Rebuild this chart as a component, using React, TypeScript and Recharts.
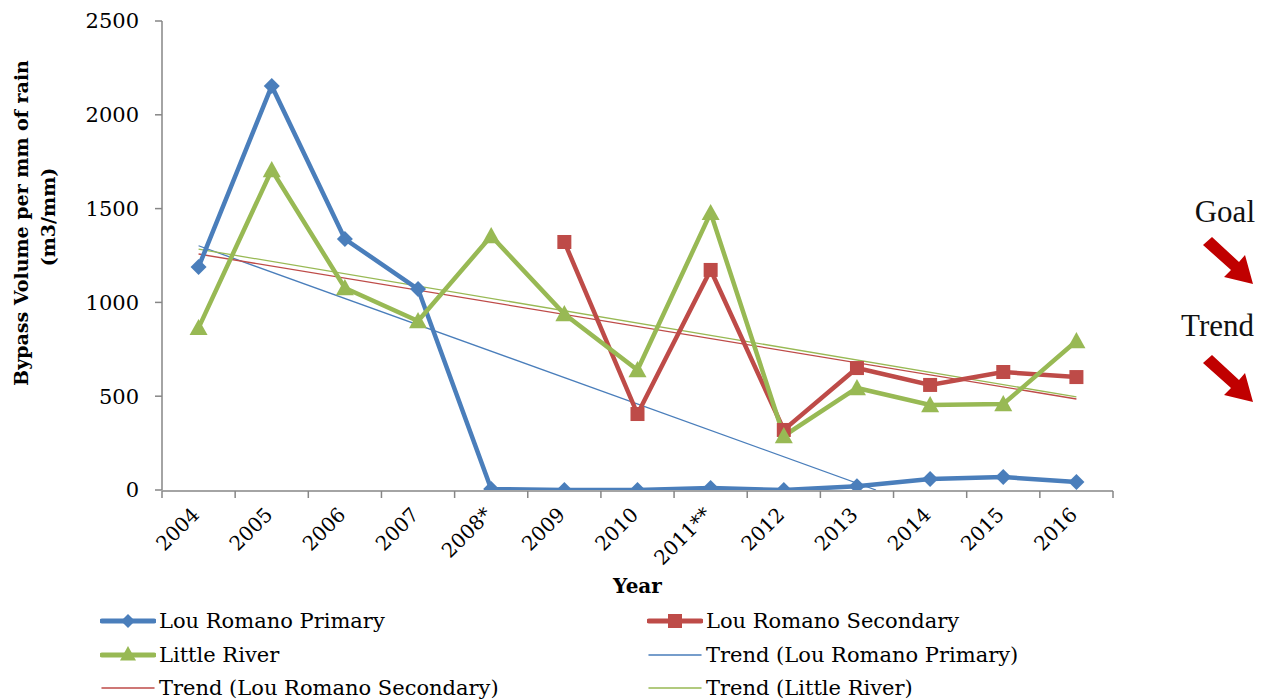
import React from "react";
import { LineChart, Line, XAxis, YAxis } from "recharts";

const years = ["2004", "2005", "2006", "2007", "2008*", "2009", "2010", "2011**", "2012", "2013", "2014", "2015", "2016"];
const louRomanoPrimary = [1189, 2154, 1338, 1071, 5, 0, 0, 10, 0, 20, 59, 69, 43];
const louRomanoSecondary = [null, null, null, null, null, 1322, 405, 1173, 320, 650, 560, 629, 602];
const littleRiver = [864, 1706, 1077, 901, 1354, 938, 640, 1477, 288, 544, 453, 458, 794];
const yTicks = [0, 500, 1000, 1500, 2000, 2500];

// trend line end points (x = category position, 1 = 2004)
const trendPrimary = [{ x: 1, v: 1302 }, { x: 10.26, v: 0 }];
const trendSecondary = [{ x: 1, v: 1258 }, { x: 13, v: 485 }];
const trendLittle = [{ x: 1, v: 1284 }, { x: 13, v: 496 }];

const BLUE = "#4A7EBB";
const RED = "#BE4B48";
const GREEN = "#98B954";
const AXIS = "#868686";
const SERIF = "'DejaVu Serif', serif";

const rows = years.map((year, i) => ({
  x: i + 1,
  year,
  primary: louRomanoPrimary[i],
  secondary: louRomanoSecondary[i],
  little: littleRiver[i],
}));

const labelTicks = years.map((_, i) => i + 1);
const markTicks = [...years.map((_, i) => i + 0.5), years.length + 0.5];

const Diamond = ({ cx, cy, fill, s = 8 }: any) =>
  cx == null || cy == null ? <g /> : (
    <path d={`M${cx},${cy - s} L${cx + s},${cy} L${cx},${cy + s} L${cx - s},${cy} Z`} fill={fill} />
  );
const Square = ({ cx, cy, fill, s = 7 }: any) =>
  cx == null || cy == null ? <g /> : <rect x={cx - s} y={cy - s} width={s * 2} height={s * 2} fill={fill} />;
const Triangle = ({ cx, cy, fill, s = 9 }: any) =>
  cx == null || cy == null ? <g /> : (
    <path d={`M${cx},${cy - s} L${cx + s},${cy + s * 0.8} L${cx - s},${cy + s * 0.8} Z`} fill={fill} />
  );

const YearTick = ({ x, y, payload }: any) => {
  const ax = x + 2;
  const ay = y + 18;
  return (
    <text x={ax} y={ay} transform={`rotate(-45, ${ax}, ${ay})`} textAnchor="end" fontSize={20} fontFamily={SERIF} fill="#000">
      {years[payload.value - 1]}
    </text>
  );
};

const NoTick = () => <g />;

const YLabel = () => (
  <g fontFamily={SERIF} fontWeight="bold" fontSize={19} fill="#000">
    <text transform="translate(28, 223) rotate(-90)" textAnchor="middle">Bypass Volume per mm of rain</text>
    <text transform="translate(55, 217) rotate(-90)" textAnchor="middle">(m3/mm)</text>
  </g>
);

const legendItems = [
  { name: "Lou Romano Primary", color: BLUE, thick: true, marker: "diamond" },
  { name: "Lou Romano Secondary", color: RED, thick: true, marker: "square" },
  { name: "Little River", color: GREEN, thick: true, marker: "triangle" },
  { name: "Trend (Lou Romano Primary)", color: BLUE, thick: false, marker: "" },
  { name: "Trend (Lou Romano Secondary)", color: RED, thick: false, marker: "" },
  { name: "Trend (Little River)", color: GREEN, thick: false, marker: "" },
];

const LegendIcon = ({ color, thick, marker }: any) => (
  <svg width={56} height={20} style={{ display: "block" }}>
    <line x1={2} y1={10} x2={54} y2={10} stroke={color} strokeWidth={thick ? 5 : 1.5} strokeLinecap="round" />
    {marker === "diamond" && <Diamond cx={28} cy={10} fill={color} s={7} />}
    {marker === "square" && <Square cx={28} cy={10} fill={color} s={7} />}
    {marker === "triangle" && <Triangle cx={28} cy={9} fill={color} s={8} />}
  </svg>
);

export default function App() {
  return (
    <div style={{ position: "absolute", left: 0, top: 0, width: 1263, height: 700, background: "#fff" }}>
      <LineChart width={1263} height={700} data={rows} margin={{ top: 21, right: 150, bottom: 109, left: 72 }}>
        <XAxis
          xAxisId="marks"
          type="number"
          dataKey="x"
          domain={[0.5, 13.5]}
          ticks={markTicks}
          tick={<NoTick />}
          height={100}
          stroke={AXIS}
          strokeWidth={1.5}
          tickSize={7}
          interval={0}
          label={{ value: "Year", position: "insideBottom", offset: -2, fontFamily: SERIF, fontWeight: "bold", fontSize: 20, fill: "#000" }}
        />
        <XAxis
          xAxisId="labels"
          type="number"
          dataKey="x"
          domain={[0.5, 13.5]}
          ticks={labelTicks}
          tick={<YearTick />}
          axisLine={false}
          tickLine={false}
          height={1}
          interval={0}
        />
        <YAxis
          type="number"
          domain={[0, 2500]}
          ticks={yTicks}
          width={90}
          stroke={AXIS}
          strokeWidth={1.5}
          tickSize={7}
          tickMargin={16}
          allowDataOverflow
          tick={{ fontFamily: SERIF, fontSize: 21, fill: "#000" }}
          label={{ content: <YLabel /> }}
        />
        <Line xAxisId="labels" data={trendPrimary} dataKey="v" stroke={BLUE} strokeWidth={1.3} dot={false} isAnimationActive={false} />
        <Line xAxisId="labels" data={trendSecondary} dataKey="v" stroke={RED} strokeWidth={1.3} dot={false} isAnimationActive={false} />
        <Line xAxisId="labels" data={trendLittle} dataKey="v" stroke={GREEN} strokeWidth={1.3} dot={false} isAnimationActive={false} />
        <Line xAxisId="labels" dataKey="primary" stroke={BLUE} strokeWidth={4.5} dot={<Diamond fill={BLUE} />} isAnimationActive={false} />
        <Line xAxisId="labels" dataKey="secondary" stroke={RED} strokeWidth={4.5} dot={<Square fill={RED} />} isAnimationActive={false} />
        <Line xAxisId="labels" dataKey="little" stroke={GREEN} strokeWidth={4.5} dot={<Triangle fill={GREEN} />} isAnimationActive={false} />
      </LineChart>

      {/* Legend */}
      <div style={{ position: "absolute", left: 100, top: 610, display: "grid", gridTemplateColumns: "547px 500px", rowGap: 11.5 }}>
        {legendItems.map((it) => (
          <div key={it.name} style={{ display: "flex", alignItems: "center", height: 22 }}>
            <LegendIcon color={it.color} thick={it.thick} marker={it.marker} />
            <span style={{ fontFamily: SERIF, fontSize: 21, marginLeft: 3, lineHeight: "22px", whiteSpace: "nowrap" }}>{it.name}</span>
          </div>
        ))}
      </div>

      {/* Goal / Trend annotation */}
      <svg width={120} height={260} style={{ position: "absolute", left: 1143, top: 180 }}>
        <text x={112} y={42} textAnchor="end" fontFamily="'Liberation Serif', serif" fontSize={31} fill="#111">Goal</text>
        <text x={111} y={156} textAnchor="end" fontFamily="'Liberation Serif', serif" fontSize={31} fill="#111">Trend</text>
        <g fill="#C00000">
          <path d="M69,57 L96,82 L102,75 L110,104 L81,97 L88,90 L60,65 Z" />
          <path d="M69,175 L96,200 L102,193 L110,222 L81,215 L88,208 L60,183 Z" />
        </g>
      </svg>
    </div>
  );
}
